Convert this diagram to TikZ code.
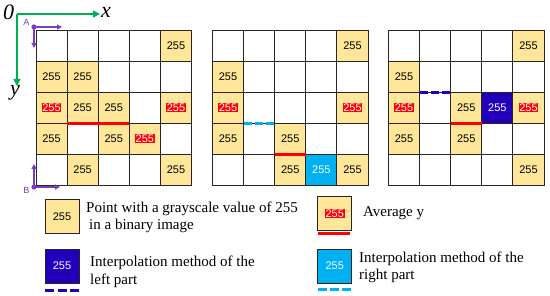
\documentclass[tikz,border=0pt]{standalone}
\usepackage{fontspec}
\setmainfont{Liberation Serif}
\newfontfamily\arialf{Liberation Sans}
\usetikzlibrary{arrows.meta}
\definecolor{cellY}{HTML}{FFE699}
\definecolor{blueI}{HTML}{2200BB}
\definecolor{cyanI}{HTML}{00B0F0}
\definecolor{axG}{HTML}{00B050}
\definecolor{purp}{HTML}{7A3CC0}
\newcommand\redtag[1]{{\setlength\fboxsep{0.6pt}\colorbox{red}{\textcolor{white}{#1}}}}
\tikzset{
  gridcell/.style={draw=black!85, line width=0.9pt, minimum size=31.1pt, inner sep=0pt, outer sep=0pt, fill=white, font=\arialf\fontsize{11}{11}\selectfont},
  ycell/.style={gridcell, fill=cellY, node contents={255}},
  rcell/.style={gridcell, fill=cellY, node contents={\redtag{255}}},
  bcell/.style={gridcell, fill=blueI, text=white, node contents={255}},
  ccell/.style={gridcell, fill=cyanI, text=white, node contents={255}},
  legbox/.style={gridcell, minimum size=34pt},
  redline/.style={red, line width=3pt},
  blueline/.style={blueI, line width=3pt, dash pattern=on 8pt off 3pt},
  cyanline/.style={cyanI, line width=3pt, dash pattern=on 8pt off 3pt},
  axis/.style={axG, line width=1.5pt, -{Triangle[length=7pt,width=7pt]}},
  parrow/.style={purp, line width=1.3pt, -{Triangle[length=5pt,width=5pt]}},
  axlabel/.style={font=\fontsize{22}{22}\selectfont\itshape, inner sep=0pt},
  plabel/.style={font=\arialf\fontsize{9}{9}\selectfont, text=purp, inner sep=0pt},
  legtext/.style={font=\fontsize{15}{15}\selectfont, anchor=base west, inner sep=0pt},
}
\begin{document}
\begin{tikzpicture}[x=1pt,y=-1pt]
\useasboundingbox (0,0) rectangle (550,296);
% grids
\foreach \g/\gx in {1/36,2/212.5,3/388.5}{
  \foreach \r in {0,...,4}{
    \foreach \c in {0,...,4}{
      \node[gridcell] (g\g-\r-\c) at ({\gx+15.55+\c*31.1},{30+15.55+\r*31.1}) {};
    }
  }
}
\foreach \r/\c/\s in {0/4/ycell,1/0/ycell,1/1/ycell,2/0/rcell,2/1/ycell,2/2/ycell,2/4/rcell,3/0/ycell,3/2/ycell,3/3/rcell,4/1/ycell,4/4/ycell}
  \node[name=v1-\r-\c, at=(g1-\r-\c), \s];
\foreach \r/\c/\s in {0/4/ycell,1/0/ycell,2/0/rcell,2/4/rcell,3/0/ycell,3/2/ycell,4/2/ycell,4/3/ccell,4/4/ycell}
  \node[name=v2-\r-\c, at=(g2-\r-\c), \s];
\foreach \r/\c/\s in {0/4/ycell,1/0/ycell,2/0/rcell,2/2/ycell,2/3/bcell,2/4/rcell,3/0/ycell,3/2/ycell,4/4/ycell}
  \node[name=v3-\r-\c, at=(g3-\r-\c), \s];
% marks
\draw[redline] (g1-2-1.south west) -- (g1-2-2.south east);
\draw[cyanline] (g2-2-1.south west) -- (g2-2-1.south east);
\draw[redline] (g2-3-2.south west) -- (g2-3-2.south east);
\draw[blueline] (g3-1-1.south west) -- (g3-1-1.south east);
\draw[redline] (g3-2-2.south west) -- (g3-2-2.south east);
% axes
\coordinate (O) at (17,14);
\coordinate (X) at (100,14);
\coordinate (Y) at (17,86);
\draw[axis] (O) -- (X);
\draw[axis] (O) -- (Y);
\node[axlabel] (o) at (8.5,12.5) {0};
\node[axlabel] (xl) at (106,12) {x};
\node[axlabel] (yl) at (15,93) {y};
% A and B
\coordinate (A) at (34,27);
\coordinate (Ar) at (62,27);
\coordinate (Ad) at (34,48);
\draw[parrow] (A) -- (Ar);
\draw[parrow] (A) -- (Ad);
\fill[purp] (A) circle (2.6);
\node[plabel] (al) at (26.5,22.5) {A};
\coordinate (B) at (34,187);
\coordinate (Bu) at (34,164);
\coordinate (Br) at (60,187);
\draw[parrow] (B) -- (Bu);
\draw[parrow] (B) -- (Br);
\fill[purp] (B) circle (2.6);
\node[plabel] (bl) at (26.5,190.5) {B};
% legend
\node[legbox, fill=cellY] (L1) at (62,216.3) {255};
\node[legtext] (t1a) at (86,213) {Point with a grayscale value of 255};
\node[legtext] (t1b) at (89,229.5) {in a binary image};
\node[legbox, fill=blueI, text=white] (L2) at (62,266) {255};
\coordinate (d2a) at (45,291);
\coordinate (d2b) at (79.5,291);
\draw[blueline, dash pattern=on 9pt off 3.5pt] (d2a) -- (d2b);
\node[legtext] (t2a) at (90,267) {Interpolation method of the};
\node[legtext] (t2b) at (90,284.5) {left part};
\node[legbox, fill=cellY] (L3) at (334.8,213.3) {\redtag{255}};
\coordinate (d3a) at (318,233.5);
\coordinate (d3b) at (350,233.5);
\draw[redline] (d3a) -- (d3b);
\node[legtext] (t3) at (363,217) {Average y};
\node[legbox, fill=cyanI, text=white] (L4) at (334.8,266) {255};
\coordinate (d4a) at (318,289.5);
\coordinate (d4b) at (351,289.5);
\draw[cyanline, dash pattern=on 8.5pt off 3.5pt] (d4a) -- (d4b);
\node[legtext] (t4a) at (359,263) {Interpolation method of the};
\node[legtext] (t4b) at (359,279.5) {right part};
\end{tikzpicture}
\end{document}
